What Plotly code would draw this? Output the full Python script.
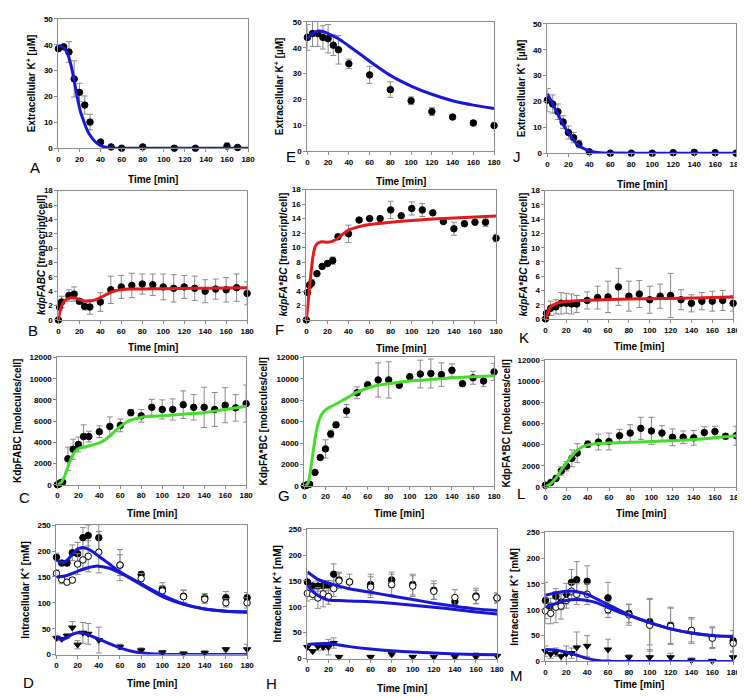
import plotly.graph_objects as go
from plotly.subplots import make_subplots

# ---------------- DATA ----------------
# Panel A: extracellular K+
tA = [0, 5, 10, 15, 20, 25, 30, 40, 50, 60, 80, 110, 130, 160, 170]
yA = [38.5, 39.2, 37.2, 26.8, 21.6, 16.7, 10.1, 2.4, 0.5, 0, 0.5, 0, 0, 0.8, 0.3]
eA = [0, 0, 4, 7, 3.5, 3.5, 3, 0, 0, 0, 0, 0, 0, 1.2, 0]
mtA = [0, 3, 6, 9, 12, 15, 18, 21, 24, 27, 30, 35, 40, 45, 50, 60, 80, 120, 180]
myA = [39.6, 39.4, 38.5, 36.2, 32, 26, 19.5, 14, 10.5, 7.3, 5, 2.5, 1.0, 0.4, 0.1, 0, 0, 0, 0]

# Panel E
tE = [0, 5, 10, 15, 20, 25, 30, 40, 60, 80, 100, 120, 140, 160, 180]
yE = [44, 45.5, 45.5, 44, 43.5, 41, 39.2, 33.8, 29.5, 23.8, 19.5, 15.3, 13.2, 10.9, 9.9]
eE = [5, 5, 5, 4.5, 5.5, 4, 5.5, 1.8, 3.3, 3, 1.5, 1.5, 0.8, 1, 0.5]
mtE = [0, 5, 10, 15, 20, 30, 40, 50, 60, 80, 100, 120, 140, 160, 180]
myE = [43.5, 45.5, 46.4, 46.3, 45.5, 43.5, 40.7, 37.8, 34.8, 29.3, 25.2, 22, 19.5, 17.8, 16.5]

# Panel J
tJ = [0, 5, 10, 15, 20, 25, 30, 40, 60, 80, 100, 120, 140, 160, 180]
yJ = [20.5, 19, 16, 12, 8, 6, 3.5, 0.5, 0, 0, 0, 0.2, 0.3, 0.2, 0]
eJ = [4.5, 3.5, 3, 2.5, 2.5, 2, 1.5, 0, 0, 0, 0, 0, 0, 0, 0]
mtJ = [0, 5, 10, 15, 20, 25, 30, 35, 40, 50, 60, 80, 120, 180]
myJ = [23, 19, 15, 11.2, 7.8, 5, 3, 1.7, 0.9, 0.2, 0.05, 0, 0, 0]

# Panel B: kdpFABC transcripts
tB = [0, 1, 3, 10, 15, 20, 25, 30, 40, 50, 60, 70, 80, 90, 100, 110, 120, 130, 140, 150, 160, 170, 180]
yB = [0, 1.8, 2.5, 3.4, 3.6, 2.6, 1.9, 1.8, 2.5, 4.2, 4.6, 4.8, 5.0, 4.9, 4.6, 4.4, 4.6, 4.4, 4.0, 4.3, 4.2, 4.5, 3.7]
eB = [0, 0.5, 0.8, 0.8, 1.0, 0.3, 0.5, 1.0, 1.3, 1.9, 1.6, 1.7, 1.4, 1.5, 1.8, 1.9, 1.6, 1.7, 1.6, 1.4, 1.7, 1.9, 1.6]
mtB = [0, 2, 5, 8, 12, 16, 20, 25, 30, 35, 40, 45, 50, 55, 60, 70, 80, 100, 130, 160, 180]
myB = [0, 1.5, 2.5, 2.9, 3.1, 3.05, 2.85, 2.65, 2.65, 2.8, 3.1, 3.5, 3.85, 4.1, 4.2, 4.3, 4.32, 4.35, 4.4, 4.45, 4.5]

# Panel F
tF = [0, 1, 3, 5, 10, 15, 20, 25, 30, 40, 50, 60, 70, 80, 90, 100, 110, 120, 130, 140, 150, 160, 170, 180]
yF = [0, 3.8, 4.8, 5.1, 6.4, 7.4, 7.8, 8.2, 11.5, 11.9, 13.8, 14.0, 14.0, 15.2, 14.4, 15.4, 15.2, 14.8, 13.6, 12.6, 13.3, 13.5, 13.5, 11.3]
eF = [0, 0.3, 0.4, 0.5, 0, 0, 0.3, 0.5, 0, 1.2, 0, 0, 0, 1.2, 0, 0.9, 0.9, 0, 0, 0.9, 0, 0, 0.6, 0.5]
mtF = [0, 2, 4, 6, 8, 10, 12, 15, 20, 25, 30, 35, 40, 50, 60, 80, 100, 120, 150, 180]
myF = [0, 3, 6, 8.5, 10, 10.5, 10.7, 10.8, 10.75, 10.9, 11.3, 11.9, 12.4, 12.9, 13.2, 13.5, 13.75, 13.95, 14.15, 14.35]

# Panel K
tK = [0, 1, 5, 10, 15, 20, 25, 30, 40, 50, 60, 70, 80, 90, 100, 110, 120, 130, 140, 150, 160, 170, 180]
yK = [0, 0.8, 1.5, 1.7, 2.2, 2.2, 2.1, 2.1, 2.6, 3.0, 3.1, 4.5, 3.2, 3.5, 2.7, 3.2, 3.3, 2.7, 2.2, 2.5, 2.5, 2.6, 2.2]
eK = [0, 0, 1.0, 1.0, 1.5, 1.4, 1.4, 1.2, 1.2, 1.6, 2.2, 2.6, 2.1, 1.9, 1.9, 1.7, 3.1, 1.4, 1.2, 1.2, 1.4, 1.4, 1.1]
mtK = [0, 3, 6, 10, 15, 20, 30, 40, 60, 80, 100, 130, 160, 180]
myK = [0, 1.2, 1.8, 2.15, 2.35, 2.45, 2.55, 2.62, 2.72, 2.8, 2.85, 2.9, 3.0, 3.1]

# Panel C: KdpFABC protein
tC = [0, 1, 2, 3, 5, 10, 15, 20, 25, 30, 40, 50, 60, 70, 80, 90, 100, 110, 120, 130, 140, 150, 160, 170, 180]
yC = [0, 50, 100, 200, 250, 2450, 3350, 3800, 4550, 4550, 5000, 5500, 5600, 6800, 6500, 7300, 7100, 7100, 7550, 7300, 7300, 7100, 7500, 7250, 7650]
eC = [0, 0, 0, 0, 0, 1100, 950, 700, 1100, 500, 550, 900, 600, 300, 600, 750, 900, 1000, 1300, 1200, 1900, 1600, 1650, 1250, 1750]
mtC = [0, 3, 6, 9, 12, 15, 20, 25, 30, 35, 40, 45, 50, 55, 60, 65, 70, 80, 90, 100, 120, 140, 160, 180]
myC = [0, 150, 600, 1400, 2200, 2900, 3400, 3550, 3650, 3800, 3950, 4200, 4600, 5050, 5500, 5850, 6100, 6350, 6450, 6500, 6650, 6800, 7100, 7400]

# Panel G
tG = [0, 1, 2, 3, 5, 10, 15, 20, 25, 30, 40, 50, 60, 70, 80, 90, 100, 110, 120, 130, 140, 150, 160, 170, 180]
yG = [0, 30, 60, 100, 150, 1250, 2650, 3450, 4850, 5700, 7000, 8700, 9450, 9900, 9900, 9400, 10200, 10450, 10500, 10400, 10800, 9550, 10100, 9800, 10650]
eG = [0, 0, 0, 0, 0, 0, 0, 850, 350, 250, 600, 550, 0, 1600, 1700, 0, 0, 1300, 1350, 1100, 600, 0, 600, 500, 800]
mtG = [0, 2, 4, 6, 8, 10, 12, 15, 18, 20, 25, 30, 40, 50, 60, 70, 80, 100, 120, 150, 180]
myG = [0, 50, 400, 1600, 3000, 4300, 5400, 6400, 6900, 7100, 7400, 7650, 8200, 8750, 9150, 9400, 9550, 9800, 9950, 10150, 10300]

# Panel L
tL = [0, 5, 10, 15, 20, 25, 30, 40, 50, 60, 70, 80, 90, 100, 110, 120, 130, 140, 150, 160, 170, 180]
yL = [150, 400, 800, 1500, 1950, 2700, 3200, 4050, 4250, 4300, 4850, 5100, 5550, 5300, 5100, 4700, 4700, 4650, 5150, 5250, 4800, 4850]
eL = [0, 0, 0, 400, 450, 800, 900, 300, 750, 800, 600, 800, 1050, 1300, 700, 800, 600, 700, 550, 500, 250, 900]
mtL = [0, 5, 10, 15, 20, 25, 30, 35, 40, 45, 50, 60, 80, 100, 120, 140, 160, 180]
myL = [0, 300, 850, 1600, 2300, 2950, 3450, 3800, 3980, 4050, 4100, 4150, 4220, 4300, 4380, 4480, 4650, 4850]

# Panel D: intracellular K+ (filled, open, triangles)
tD = [0, 5, 10, 15, 20, 25, 30, 40, 60, 80, 100, 120, 140, 160, 180]
yD1 = [188, 177, 177, 197, 195, 226, 230, 226, 173, 155, 127, 113, 110, 110, 110]
eD1 = [8, 5, 5, 15, 22, 20, 20, 25, 20, 5, 12, 12, 8, 12, 10]
yD2 = [157, 145, 140, 144, 175, 183, 190, 198, 173, 147, 123, 112, 107, 100, 100]
eD2 = [7, 8, 5, 5, 20, 20, 30, 40, 30, 10, 10, 12, 8, 8, 10]
yD3 = [32, 30, 36, 52, 19, 42, 40, 28, 15, 8, 4, 2, 3, 10, 10]
eD3 = [5, 3, 5, 12, 8, 20, 20, 25, 5, 5, 4, 0, 5, 3, 10]
mtD = [0, 5, 10, 15, 20, 25, 30, 35, 40, 50, 60, 70, 80, 100, 120, 140, 160, 180]
myD1 = [183, 178, 182, 194, 204, 207, 204, 198, 190, 175, 160, 147, 135, 112, 97, 88, 84, 83]
myD2 = [150, 151, 153, 157, 161, 165, 168, 170.5, 171, 167, 158, 148, 137, 115, 98, 88, 84, 82]
myD3 = [35, 29, 33, 39, 42, 41, 38, 34, 30, 21, 13, 7, 3.5, 0.5, 0, 0, 0, 0]

# Panel H
tH = [0, 5, 10, 15, 20, 25, 30, 40, 60, 80, 100, 120, 140, 160, 180]
yH1 = [148, 140, 140, 141, 141, 163, 152, 148, 143, 152, 143, 132, 110, 121, 117]
eH1 = [15, 8, 10, 10, 10, 20, 15, 0, 20, 15, 20, 18, 10, 15, 8]
yH2 = [126, 124, 117, 125, 120, 135, 150, 148, 138, 143, 140, 130, 118, 119, 117]
eH2 = [15, 10, 20, 25, 15, 15, 15, 15, 20, 20, 20, 15, 15, 13, 10]
tH3 = [0, 5, 10, 15, 20, 25, 30, 60, 80, 100, 120, 140, 160, 180]
yH3 = [22, 14, 23, 22, 22, 30, 3, 3, 8, 3, 3, 3, 3, 5]
eH3 = [5, 3, 8, 5, 15, 10, 0, 0, 3, 0, 0, 3, 8, 0]
mtH = [0, 5, 10, 15, 20, 25, 30, 40, 60, 80, 100, 120, 140, 160, 180]
myH1 = [168, 160, 153, 149, 146, 143, 140, 135, 128, 121, 114, 107, 101, 96, 93]
myH2 = [142, 130, 122, 117, 113, 112, 112, 111, 110, 107, 103, 99, 95, 90, 86]
myH3 = [27, 28, 28, 29, 29, 28, 26, 23, 18.5, 15, 12.5, 10.5, 9, 8, 7.5]

# Panel M
tM = [0, 5, 10, 15, 20, 25, 30, 40, 60, 80, 100, 120, 140, 160, 180]
yM1 = [118, 107, 126, 115, 131, 153, 158, 155, 123, 93, 77, 70, 60, 47, 40]
eM1 = [35, 15, 15, 15, 20, 25, 35, 30, 30, 18, 45, 35, 22, 20, 20]
yM2 = [98, 93, 105, 107, 118, 136, 130, 130, 100, 90, 70, 68, 60, 45, 35]
eM2 = [25, 20, 30, 25, 15, 15, 20, 20, 15, 20, 50, 35, 25, 20, 15]
yM3 = [20, 14, 18, 10, 15, 16, 27, 30, 23, 8, 8, 8, 2, 1, 8]
eM3 = [10, 8, 8, 10, 15, 10, 30, 20, 20, 5, 15, 8, 5, 3, 10]
mtM = [0, 10, 20, 30, 40, 50, 60, 70, 80, 100, 120, 140, 160, 180]
myM1 = [128, 133, 136, 135, 130, 120, 110, 100, 90, 75, 63, 55, 50, 49]
myM2 = [105, 112, 118, 120, 118, 113, 104, 96, 89, 75, 63, 55, 50, 48]
myM3 = [23, 22, 18, 12, 6, 2, 0.5, 0, 0, 0, 0, 0, 0, 0]

x_ticks = [0, 20, 40, 60, 80, 100, 120, 140, 160, 180]
panel_letters = ["A", "E", "J", "B", "F", "K", "C", "G", "L", "D", "H", "M"]
y_titles = [
    "Extracellular K<sup>+</sup> [µM]", "Extracellular K<sup>+</sup> [µM]", "Extracellular K<sup>+</sup> [µM]",
    "<i>kdpFABC</i> [transcript/cell]", "<i>kdpFA*BC</i> [transcript/cell]", "<i>kdpFA*BC</i> [transcript/cell]",
    "KdpFABC [molecules/cell]", "KdpFA*BC [molecules/cell]", "KdpFA*BC [molecules/cell]",
    "Intracellular K<sup>+</sup> [mM]", "Intracellular K<sup>+</sup> [mM]", "Intracellular K<sup>+</sup> [mM]",
]
x_title = "Time [min]"

# ---------------- LAYOUT GEOMETRY (pixels) ----------------
W, H = 745, 696
boxes = [
    (49, 241, 7, 138), (301, 490, 10, 141), (544, 735, 12, 143),
    (49, 240, 181, 312), (300, 492, 180, 312), (542, 732, 181, 311),
    (48, 239, 350, 479), (298, 490, 350, 480), (542, 735, 353, 481),
    (47, 240, 520, 651), (301, 493, 524, 655), (542, 732, 527, 658),
]
letter_pos = [(25, 158), (284, 146), (513, 146), (23, 323), (273, 322), (520, 330),
              (15, 492), (277, 490), (517, 488), (19, 679), (265, 680), (513, 672)]
ytitle_x = [21, 272, 518, 32, 277, 520, 7, 257, 503, 15, 270, 510]
xtitle_y = [170, 172, 175, 340, 341, 339, 508, 508, 508, 680, 685, 681]
yranges = [(0, 50, 10)] * 3 + [(0, 18, 2)] * 3 + [(0, 12000, 2000)] * 3 + [(0, 250, 50)] * 3

BLUE = "#1818d4"
RED = "#e11b1b"
GREEN = "#44dd2a"
ERR = dict(type="data", color="#8a8a8a", thickness=1, width=3)
FONT = "Arial, Liberation Sans, sans-serif"

fig = make_subplots(rows=4, cols=3)

def rc(i):
    return i // 3 + 1, i % 3 + 1

def pts(i, t, y, e, symbol="circle", fill="black"):
    r, c = rc(i)
    fig.add_trace(go.Scatter(
        x=t, y=y, mode="markers", cliponaxis=False, showlegend=False,
        marker=dict(symbol=symbol, size=6.5, color=fill, line=dict(color="black", width=1)),
        error_y=dict(array=e, **ERR)), row=r, col=c)

def line(i, t, y, color):
    r, c = rc(i)
    fig.add_trace(go.Scatter(
        x=t, y=y, mode="lines", showlegend=False, cliponaxis=True,
        line=dict(color=color, width=3, shape="spline", smoothing=0.7)), row=r, col=c)

# Row 1
pts(0, tA, yA, eA); line(0, mtA, myA, BLUE)
pts(1, tE, yE, eE); line(1, mtE, myE, BLUE)
pts(2, tJ, yJ, eJ); line(2, mtJ, myJ, BLUE)
# Row 2
pts(3, tB, yB, eB); line(3, mtB, myB, RED)
pts(4, tF, yF, eF); line(4, mtF, myF, RED)
pts(5, tK, yK, eK); line(5, mtK, myK, RED)
# Row 3
pts(6, tC, yC, eC); line(6, mtC, myC, GREEN)
pts(7, tG, yG, eG); line(7, mtG, myG, GREEN)
pts(8, tL, yL, eL); line(8, mtL, myL, GREEN)
# Row 4
for i, (t, y1, e1, y2, e2, t3, y3, e3, mt, m1, m2, m3) in [
    (9, (tD, yD1, eD1, yD2, eD2, tD, yD3, eD3, mtD, myD1, myD2, myD3)),
    (10, (tH, yH1, eH1, yH2, eH2, tH3, yH3, eH3, mtH, myH1, myH2, myH3)),
    (11, (tM, yM1, eM1, yM2, eM2, tM, yM3, eM3, mtM, myM1, myM2, myM3)),
]:
    pts(i, t, y1, e1)
    pts(i, t, y2, e2, fill="white")
    pts(i, t3, y3, e3, symbol="triangle-down")
    line(i, mt, m1, BLUE)
    line(i, mt, m2, BLUE)
    line(i, mt, m3, BLUE)

annotations = []
for i in range(12):
    x0, x1, y0, y1 = boxes[i]
    xa = "xaxis" if i == 0 else f"xaxis{i+1}"
    ya = "yaxis" if i == 0 else f"yaxis{i+1}"
    lo, hi, dt = yranges[i]
    fig.layout[xa].update(
        domain=[x0 / W, x1 / W], range=[0, 180], tickvals=x_ticks,
        showline=True, mirror=True, linecolor="#8c8c8c", linewidth=1,
        ticks="outside", ticklen=3, tickcolor="#8c8c8c", showgrid=False, zeroline=False,
        tickfont=dict(family=FONT, size=8, color="black", weight="bold"))
    fig.layout[ya].update(
        domain=[1 - y1 / H, 1 - y0 / H], range=[lo, hi], dtick=dt, tick0=0, tickformat="d",
        showline=True, mirror=True, linecolor="#8c8c8c", linewidth=1,
        ticks="outside", ticklen=3, tickcolor="#8c8c8c", showgrid=False, zeroline=False,
        tickfont=dict(family=FONT, size=8, color="black", weight="bold"))
    lx, ly = letter_pos[i]
    annotations.append(dict(text=panel_letters[i], x=lx / W, y=1 - ly / H, xref="paper", yref="paper",
                            showarrow=False, xanchor="center", yanchor="middle",
                            font=dict(family=FONT, size=15, color="black")))
    annotations.append(dict(text=x_title, x=(x0 + x1) / 2 / W, y=1 - xtitle_y[i] / H, xref="paper", yref="paper",
                            showarrow=False, xanchor="center", yanchor="middle",
                            font=dict(family=FONT, size=10, color="black", weight="bold")))
    annotations.append(dict(text=y_titles[i], x=ytitle_x[i] / W, y=1 - (y0 + y1) / 2 / H, xref="paper", yref="paper",
                            showarrow=False, xanchor="center", yanchor="middle", textangle=-90,
                            font=dict(family=FONT, size=10, color="black", weight="bold")))

fig.update_layout(width=W, height=H, margin=dict(l=0, r=0, t=0, b=0),
                  paper_bgcolor="white", plot_bgcolor="white", showlegend=False,
                  annotations=annotations, font=dict(family=FONT))
fig.write_html("out.html")
